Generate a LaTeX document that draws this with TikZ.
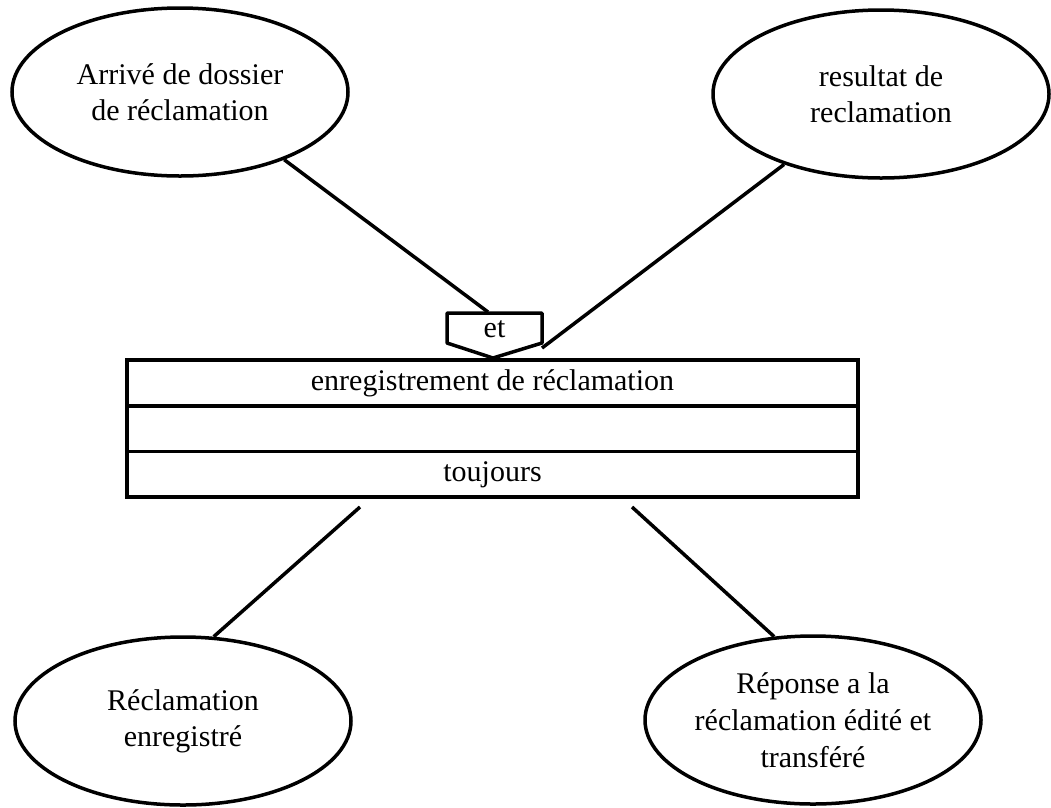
\documentclass[tikz,border=0pt]{standalone}
\usepackage{fontspec}
\setmainfont{Liberation Serif}
\usetikzlibrary{shapes.geometric}
\begin{document}
\begin{tikzpicture}[x=1pt,y=-1pt,
  every node/.style={font=\fontsize{30}{36}\selectfont},
  oval/.style={draw, ellipse, line width=3.5pt, minimum width=336pt, minimum height=168pt, inner sep=0pt, align=center},
  row/.style={draw, rectangle, line width=3.5pt, minimum width=731pt, minimum height=45.67pt, inner sep=0pt},
  link/.style={line width=3.5pt},
  gate/.style={draw, line width=3.5pt, line join=round}]
\useasboundingbox (0,0) rectangle (1051,807);

% ellipses
\node[oval] (arr) at (180,92) {Arrivé de dossier\\de réclamation};
\node[oval] (res) at (881,94) {resultat de\\reclamation};
\node[oval] (enr) at (183,721) {Réclamation\\enregistré};
\node[oval, font=\fontsize{30}{37}\selectfont] (rep) at (813,720) {Réponse a la\\réclamation édité et\\transféré};

% process box
\node[row] (r1) at (492.5,383) {enregistrement de réclamation};
\node[row] (r2) at (492.5,428.67) {};
\node[row] (r3) at (492.5,474.33) {toujours};

% "et" gate
\draw[gate] (447,313) -- (542,313) -- (542,343) -- (493,358) -- (447,343) -- cycle;
\node (et) at (494.5,329) {et};

% free ends of connectors
\coordinate (c1) at (488,312);
\coordinate (c2) at (542,348);
\coordinate (c3) at (360,507);
\coordinate (c4) at (632,507);

\draw[link] (arr.-33) -- (c1);
\draw[link] (res.216) -- (c2);
\draw[link] (c3) -- (enr.70);
\draw[link] (c4) -- (rep.115);
\end{tikzpicture}
\end{document}
